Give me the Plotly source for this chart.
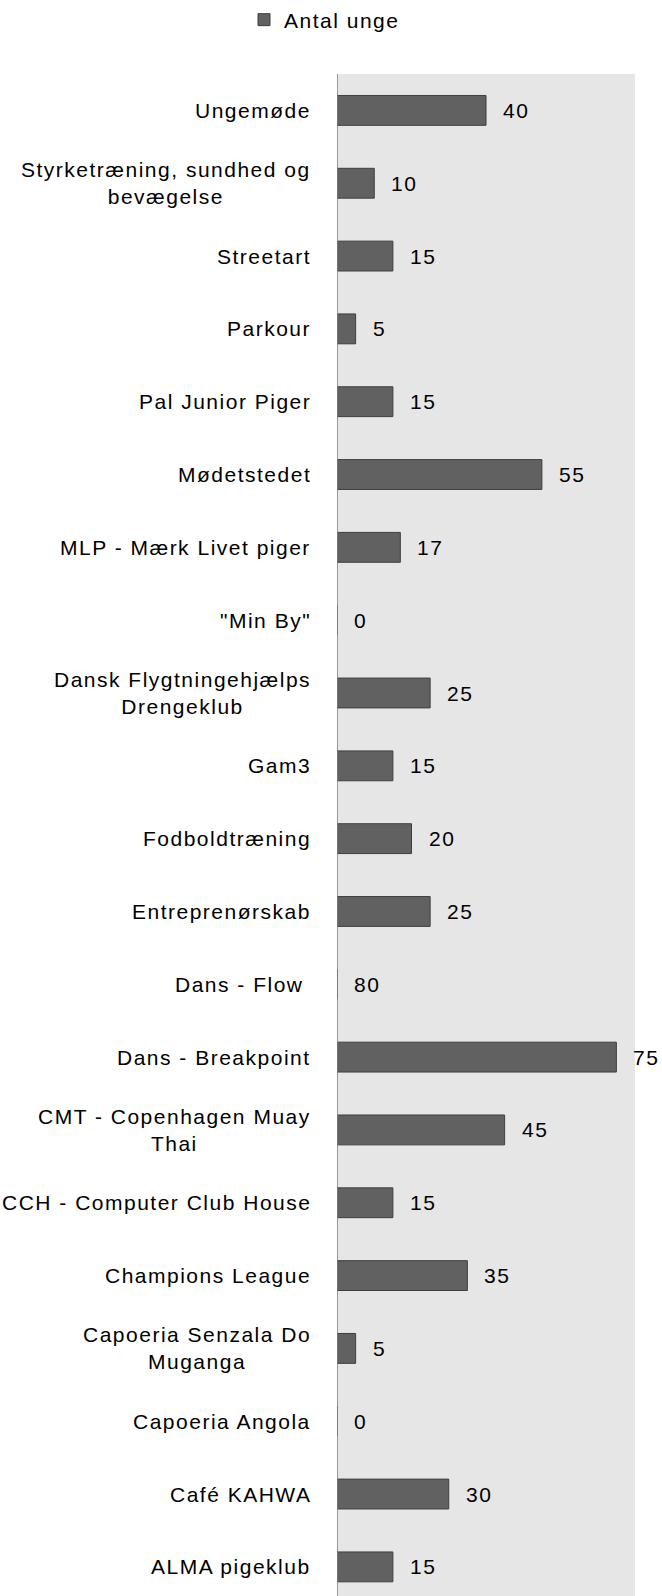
import plotly.graph_objects as go

categories = [
    "Ungemøde",
    "Styrketræning, sundhed og<br>bevægelse",
    "Streetart",
    "Parkour",
    "Pal Junior Piger",
    "Mødetstedet",
    "MLP - Mærk Livet piger",
    "\"Min By\"",
    "Dansk Flygtningehjælps<br>Drengeklub",
    "Gam3",
    "Fodboldtræning",
    "Entreprenørskab",
    "Dans - Flow\u00a0",
    "Dans - Breakpoint",
    "CMT - Copenhagen Muay<br>Thai",
    "CCH - Computer Club House",
    "Champions League",
    "Capoeria Senzala Do<br>Muganga",
    "Capoeria Angola",
    "Café KAHWA",
    "ALMA pigeklub",
]
values = [40, 10, 15, 5, 15, 55, 17, 0, 25, 15, 20, 25, 80, 75, 45, 15, 35, 5, 0, 30, 15]
# the "Dans - Flow" bar is not drawn in the reference (only its label)
bar_drawn = [True] * len(values)
bar_drawn[12] = False

series_name = "Antal unge"
FONT = "Liberation Sans, Arial, sans-serif"
FS = 21
LS = "letter-spacing:1.5px"


def spaced(text):
    return "<br>".join(f'<span style="{LS}">{line}</span>' for line in text.split("<br>"))


bar_len = [v if d else 0 for v, d in zip(values, bar_drawn)]

fig = go.Figure()
fig.add_trace(go.Bar(
    x=bar_len, y=categories, orientation="h", name=spaced(series_name),
    marker=dict(color="#616161", line=dict(color="#3f3f3f", width=1)),
    hoverinfo="skip",
))

annotations = []
for c, v, b in zip(categories, values, bar_len):
    annotations.append(dict(x=b, y=c, xref="x", yref="y", text=spaced(str(v)),
                            showarrow=False, xanchor="left", xshift=15,
                            font=dict(family=FONT, size=FS, color="#000")))
    annotations.append(dict(x=0, y=c, xref="x", yref="y", text=spaced(c),
                            showarrow=False, xanchor="right", xshift=-24,
                            align="center",
                            font=dict(family=FONT, size=FS, color="#000")))

n = len(categories)
fig.update_layout(
    width=662, height=1596,
    margin=dict(l=337, r=27, t=74, b=0, pad=0),
    paper_bgcolor="white", plot_bgcolor="#e6e6e6",
    bargap=0.59,
    showlegend=True,
    legend=dict(orientation="h", x=244 / 662, xanchor="left",
                y=1 - 20 / 1596, yanchor="middle",
                xref="container", yref="container",
                font=dict(family=FONT, size=FS, color="#000"),
                itemwidth=30),
    font=dict(family=FONT, size=FS, color="#000"),
    annotations=annotations,
    xaxis=dict(range=[0, 80], visible=False, fixedrange=True),
    yaxis=dict(type="category", categoryorder="array", categoryarray=categories,
               range=[n - 0.6, -0.5], showticklabels=False, ticks="",
               showgrid=False, zeroline=False, showline=False),
    shapes=[dict(type="line", xref="x", yref="paper", x0=0, x1=0, y0=0, y1=1,
                 line=dict(color="#808080", width=1.5))],
)

fig.write_html("out.html", config={"displayModeBar": False},
               post_script="document.body.style.margin='0';")
